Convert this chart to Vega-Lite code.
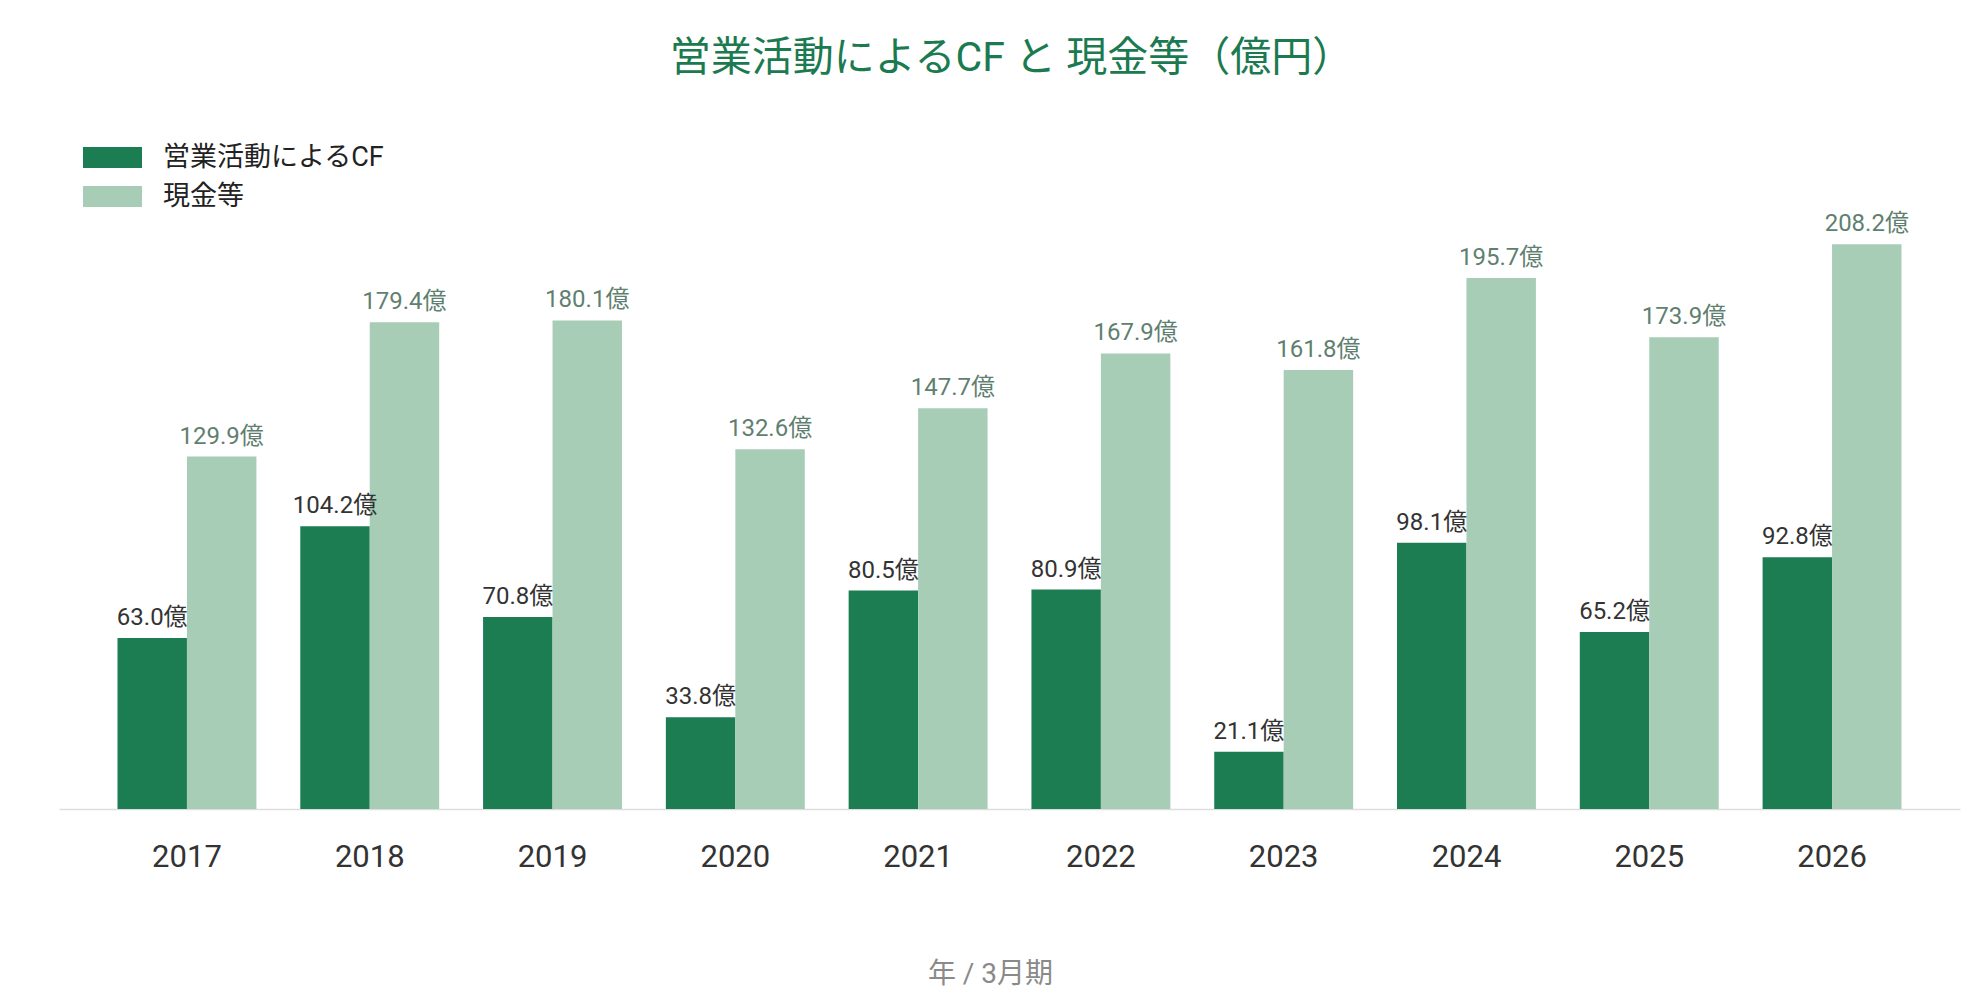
{
  "$schema": "https://vega.github.io/schema/vega-lite/v6.json",
  "width": 1901,
  "height": 624,
  "autosize": {"type": "none"},
  "padding": {"left": 59, "top": 185, "right": 20, "bottom": 191},
  "background": "white",
  "config": {
    "font": "Roboto, 'Noto Sans CJK JP', sans-serif",
    "view": {"stroke": null}
  },
  "title": {
    "text": "営業活動によるCF と 現金等（億円）",
    "color": "#1b7a50",
    "fontSize": 41,
    "fontWeight": "normal",
    "anchor": "middle",
    "dx": 2,
    "offset": 64
  },
  "data": {
    "values": [
      {"year": "2017", "series": "営業活動によるCF", "value": 63.0},
      {"year": "2018", "series": "営業活動によるCF", "value": 104.2},
      {"year": "2019", "series": "営業活動によるCF", "value": 70.8},
      {"year": "2020", "series": "営業活動によるCF", "value": 33.8},
      {"year": "2021", "series": "営業活動によるCF", "value": 80.5},
      {"year": "2022", "series": "営業活動によるCF", "value": 80.9},
      {"year": "2023", "series": "営業活動によるCF", "value": 21.1},
      {"year": "2024", "series": "営業活動によるCF", "value": 98.1},
      {"year": "2025", "series": "営業活動によるCF", "value": 65.2},
      {"year": "2026", "series": "営業活動によるCF", "value": 92.8},
      {"year": "2017", "series": "現金等", "value": 129.9},
      {"year": "2018", "series": "現金等", "value": 179.4},
      {"year": "2019", "series": "現金等", "value": 180.1},
      {"year": "2020", "series": "現金等", "value": 132.6},
      {"year": "2021", "series": "現金等", "value": 147.7},
      {"year": "2022", "series": "現金等", "value": 167.9},
      {"year": "2023", "series": "現金等", "value": 161.8},
      {"year": "2024", "series": "現金等", "value": 195.7},
      {"year": "2025", "series": "現金等", "value": 173.9},
      {"year": "2026", "series": "現金等", "value": 208.2}
    ]
  },
  "encoding": {
    "x": {
      "field": "year",
      "type": "nominal",
      "scale": {"paddingInner": 0.24, "paddingOuter": 0.32},
      "axis": {
        "title": "年 / 3月期",
        "titleFontSize": 28,
        "titleFontWeight": "normal",
        "titleColor": "#8a8a8a",
        "titlePadding": 88,
        "titleX": 931,
        "labelAngle": 0,
        "labelFontSize": 31,
        "labelColor": "#333333",
        "labelPadding": 33,
        "ticks": false,
        "domainColor": "#dddddd",
        "domainWidth": 1.5
      }
    },
    "xOffset": {"field": "series", "type": "nominal", "sort": ["営業活動によるCF", "現金等"]},
    "y": {
      "field": "value",
      "type": "quantitative",
      "scale": {"domain": [0, 230], "nice": false},
      "axis": null
    }
  },
  "layer": [
    {
      "mark": {"type": "bar"},
      "encoding": {
        "color": {
          "field": "series",
          "type": "nominal",
          "sort": ["営業活動によるCF", "現金等"],
          "scale": {"domain": ["営業活動によるCF", "現金等"], "range": ["#1c7d53", "#a8cdb7"]},
          "legend": {
            "title": null,
            "orient": "none",
            "legendX": 40,
            "legendY": -41,
            "symbolType": "M-2.81,-1L2.81,-1L2.81,1L-2.81,1Z",
            "symbolSize": 441,
            "symbolStrokeWidth": 0,
            "symbolOpacity": 1,
            "labelFontSize": 27,
            "labelColor": "#222222",
            "labelOffset": 37,
            "labelLimit": 500,
            "rowPadding": 11
          }
        }
      }
    },
    {
      "mark": {
        "type": "text",
        "fontSize": 24,
        "baseline": "alphabetic",
        "dy": -13,
        "text": {"expr": "format(datum.value, '.1f') + '億'"}
      },
      "encoding": {
        "color": {
          "field": "series",
          "type": "nominal",
          "scale": {"domain": ["営業活動によるCF", "現金等"], "range": ["#333333", "#5f7f70"]},
          "legend": null
        }
      }
    }
  ],
  "resolve": {"scale": {"color": "independent"}}
}
